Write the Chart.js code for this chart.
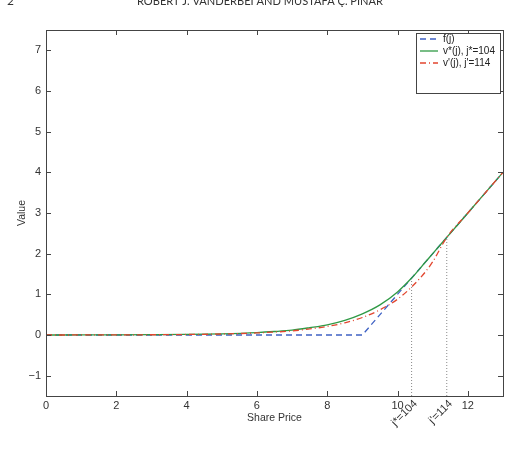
<!DOCTYPE html>
<html>
<head>
<meta charset="utf-8">
<script src="https://cdn.jsdelivr.net/npm/chart.js@4"></script>
<style>
  html, body { margin: 0; padding: 0; background: #fff; }
  #wrap { width: 531px; height: 458px; position: relative; }
</style>
</head>
<body>
<div id="wrap"><canvas id="chart"></canvas></div>
<script>
// share price grid and the values
const PRICE = [0, 1, 2, 3, 4, 5, 6, 6.5, 7, 7.5, 8, 8.5, 9, 9.5, 10, 10.4, 10.8, 11, 11.4, 12, 13];
const V_STAR = [0, 0.001, 0.003, 0.007, 0.014, 0.03, 0.06, 0.086, 0.12, 0.18, 0.25, 0.36, 0.52, 0.74, 1.06, 1.4, 1.8, 2.0, 2.4, 3.0, 4.0];
const V_PRIME = [0, 0.001, 0.003, 0.006, 0.012, 0.025, 0.05, 0.073, 0.10, 0.15, 0.21, 0.30, 0.43, 0.62, 0.88, 1.18, 1.56, 1.80, 2.4, 3.0, 4.0];

// payoff f(j)
const F_PRICE = [0, 9, 13];
const F_VALUE = [0, 0, 4];

// stopping thresholds
const J_STAR = 10.4, J_STAR_VALUE = 1.4;
const J_PRIME = 11.4, J_PRIME_VALUE = 2.4;

const X_TICKS = [0, 2, 4, 6, 8, 10, 12];
const Y_TICKS = [-1, 0, 1, 2, 3, 4, 5, 6, 7];
const LABELS = ["f(j)", "v*(j), j*=104", "v'(j), j'=114"];
const MARK_LABELS = ["j*=104", "j'=114"];

const pts = (xs, ys) => xs.map((x, i) => ({ x, y: ys[i] }));

const FONT = "'Liberation Sans', Arial, sans-serif";
const BLUE = "#3f62c4", GREEN = "#2f9a45", RED = "#e2462f";

const frame = {
  id: "frame",
  afterDraw(chart) {
    const { ctx, chartArea: a, scales: { x, y } } = chart;
    ctx.save();

    // box + inward ticks
    ctx.strokeStyle = "#444";
    ctx.lineWidth = 1;
    ctx.strokeRect(a.left + 0.5, a.top + 0.5, a.right - a.left, a.bottom - a.top);
    ctx.beginPath();
    X_TICKS.forEach(v => {
      const px = Math.round(x.getPixelForValue(v)) + 0.5;
      ctx.moveTo(px, a.bottom); ctx.lineTo(px, a.bottom - 5);
      ctx.moveTo(px, a.top); ctx.lineTo(px, a.top + 5);
    });
    Y_TICKS.forEach(v => {
      const py = Math.round(y.getPixelForValue(v)) + 0.5;
      ctx.moveTo(a.left, py); ctx.lineTo(a.left + 5, py);
      ctx.moveTo(a.right, py); ctx.lineTo(a.right - 5, py);
    });
    ctx.stroke();

    // rotated threshold labels
    ctx.fillStyle = "#333";
    ctx.font = "11px " + FONT;
    ctx.textAlign = "right";
    ctx.textBaseline = "middle";
    [J_STAR, J_PRIME].forEach((v, i) => {
      ctx.save();
      ctx.translate(x.getPixelForValue(v) + 4, a.bottom + 6);
      ctx.rotate(-Math.PI / 4);
      ctx.fillText(MARK_LABELS[i], 0, 0);
      ctx.restore();
    });

    // legend
    const lx = 416, ly = 33, lw = 84, lh = 60;
    ctx.fillStyle = "#fff";
    ctx.fillRect(lx, ly, lw, lh);
    ctx.strokeStyle = "#444";
    ctx.strokeRect(lx + 0.5, ly + 0.5, lw, lh);
    const ds = chart.data.datasets;
    ctx.textAlign = "left";
    ctx.font = "10px " + FONT;
    [0, 1, 2].forEach(i => {
      const d = ds[i];
      const ry = ly + 6 + i * 12;
      ctx.strokeStyle = d.borderColor;
      ctx.lineWidth = d.borderWidth;
      ctx.setLineDash(d.borderDash || []);
      ctx.beginPath();
      ctx.moveTo(lx + 4, ry); ctx.lineTo(lx + 22, ry);
      ctx.stroke();
      ctx.setLineDash([]);
      ctx.fillStyle = "#222";
      ctx.fillText(LABELS[i], lx + 27, ry);
    });

    // running header
    ctx.fillStyle = "#333";
    ctx.textBaseline = "alphabetic";
    ctx.font = "12px Lato, 'DejaVu Sans', sans-serif";
    ctx.textAlign = "left";
    ctx.fillText("2", 7, 5);
    const head = "ROBERT J. VANDERBEI AND MUSTAFA Ç. PINAR";
    const w = ctx.measureText(head).width;
    ctx.save();
    ctx.translate(137, 5);
    ctx.scale(246 / w, 1);
    ctx.fillText(head, 0, 0);
    ctx.restore();

    ctx.restore();
  }
};

new Chart(document.getElementById("chart"), {
  type: "line",
  data: {
    datasets: [
      {
        label: LABELS[0],
        data: pts(F_PRICE, F_VALUE),
        borderColor: BLUE, borderWidth: 1.3, borderDash: [6, 4],
        pointRadius: 0, tension: 0, order: 3
      },
      {
        label: LABELS[1],
        data: pts(PRICE, V_STAR),
        borderColor: GREEN, borderWidth: 1.3,
        pointRadius: 0, cubicInterpolationMode: "monotone", order: 2
      },
      {
        label: LABELS[2],
        data: pts(PRICE, V_PRIME),
        borderColor: RED, borderWidth: 1.3, borderDash: [6, 3, 1, 3],
        pointRadius: 0, cubicInterpolationMode: "monotone", order: 1
      },
      {
        data: pts([J_STAR, J_STAR], [-1.5, J_STAR_VALUE]),
        borderColor: "#888", borderWidth: 1, borderDash: [1, 2],
        pointRadius: 0, order: 4
      },
      {
        data: pts([J_PRIME, J_PRIME], [-1.5, J_PRIME_VALUE]),
        borderColor: "#888", borderWidth: 1, borderDash: [1, 2],
        pointRadius: 0, order: 4
      }
    ]
  },
  options: {
    responsive: true,
    maintainAspectRatio: false,
    animation: false,
    events: [],
    layout: { padding: { left: 0, top: 30, right: 28, bottom: 0 } },
    plugins: { legend: { display: false }, tooltip: { enabled: false } },
    scales: {
      x: {
        type: "linear", min: 0, max: 13,
        afterBuildTicks: s => { s.ticks = X_TICKS.map(v => ({ value: v })); },
        afterFit: s => { s.height = 62; },
        grid: { display: false, drawTicks: false },
        border: { display: false },
        ticks: { padding: 3, color: "#333", font: { family: FONT, size: 11 }, maxRotation: 0 },
        title: { display: true, text: "Share Price", color: "#333",
                 font: { family: FONT, size: 10.5 }, padding: { top: 0, bottom: 34 } }
      },
      y: {
        type: "linear", min: -1.5, max: 7.5,
        afterBuildTicks: s => { s.ticks = Y_TICKS.map(v => ({ value: v })); },
        afterFit: s => { s.width = 46; },
        grid: { display: false, drawTicks: false },
        border: { display: false },
        ticks: { padding: 5, color: "#333", font: { family: FONT, size: 11 },
                 callback: v => (v < 0 ? "\u2212" + Math.abs(v) : String(v)) },
        title: { display: true, text: "Value", color: "#333",
                 font: { family: FONT, size: 10.5 }, padding: { top: 16, bottom: 0 } }
      }
    }
  },
  plugins: [frame]
});
</script>
</body>
</html>
